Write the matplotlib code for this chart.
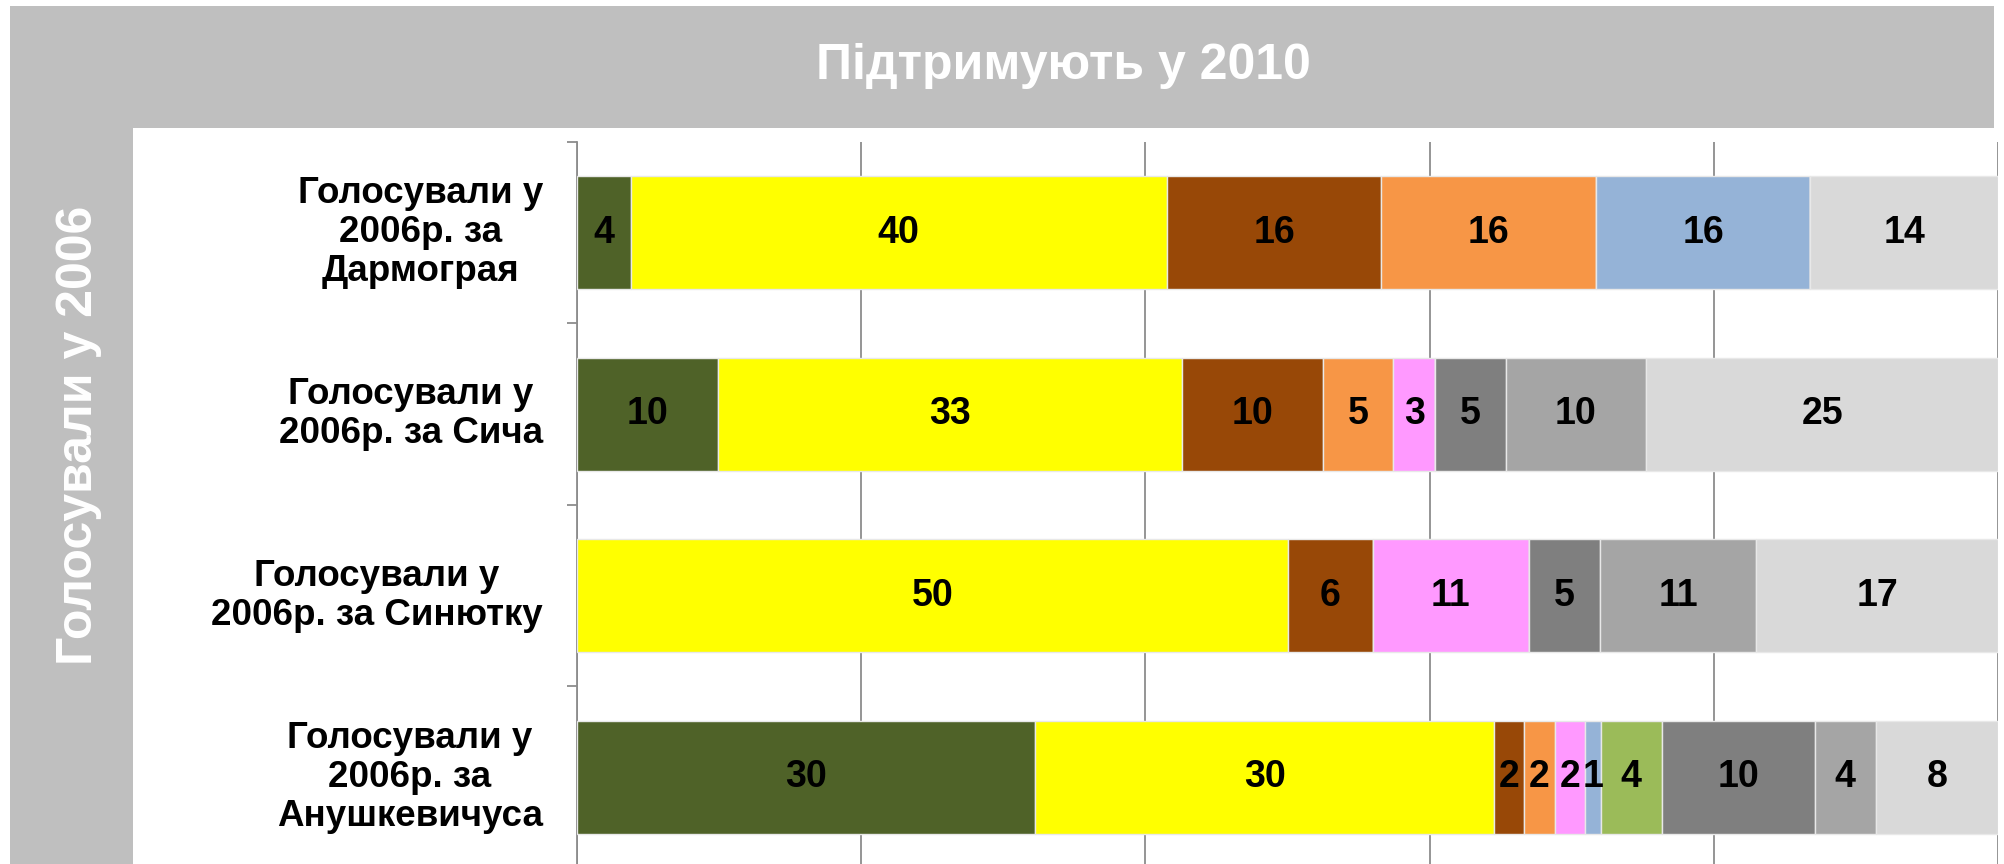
import matplotlib
matplotlib.use("Agg")
import matplotlib.pyplot as plt
import matplotlib.transforms as mtransforms
from matplotlib.patches import Rectangle
import numpy as np

plt.rcParams['font.family'] = ['Liberation Sans', 'DejaVu Sans']

title = "Підтримують у 2010"
side_title = "Голосували у 2006"
categories = [
    "Голосували у\n2006р. за\nДармограя",
    "Голосували у\n2006р. за Сича",
    "Голосували у\n2006р. за Синютку",
    "Голосували у\n2006р. за\nАнушкевичуса",
]

# one list per 2010 option, values per 2006 group (0 = absent)
dark_green = [4, 10, 0, 30]
yellow = [40, 33, 50, 30]
brown = [16, 10, 6, 2]
orange = [16, 5, 0, 2]
pink = [0, 3, 11, 2]
blue = [16, 0, 0, 1]
light_green = [0, 0, 0, 4]
dark_gray = [0, 5, 5, 10]
mid_gray = [0, 10, 11, 4]
light_gray = [14, 25, 17, 8]

series = [dark_green, yellow, brown, orange, pink, blue,
          light_green, dark_gray, mid_gray, light_gray]
colors = ['#4F6228', '#FFFF00', '#984807', '#F79646', '#FF99FF',
          '#95B3D7', '#9BBB59', '#7F7F7F', '#A5A5A5', '#D9D9D9']

W, H = 2004, 864
fig = plt.figure(figsize=(W / 100, H / 100), dpi=100, facecolor='white')

# background bands (pixel coords -> figure fractions)
def px_rect(x0, y0, x1, y1, color, z):
    fig.patches.append(Rectangle((x0 / W, 1 - y1 / H), (x1 - x0) / W, (y1 - y0) / H,
                                 transform=fig.transFigure, facecolor=color,
                                 edgecolor='none', zorder=z))

px_rect(10, 6, 1994, 864, '#BFBFBF', -3)
px_rect(133, 128, 2004, 864, 'white', -2)

fig.text(1063 / W, 1 - 66 / H, title, color='white', fontsize=36,
         fontweight='bold', ha='center', va='center')
fig.text(79 / W, 1 - 435 / H, side_title, color='white', fontsize=36,
         fontweight='bold', ha='center', va='center', rotation=90)

ax_left, ax_right, ax_top, ax_bottom = 577, 1998, 142, 868
ax = fig.add_axes([ax_left / W, 1 - ax_bottom / H,
                   (ax_right - ax_left) / W, (ax_bottom - ax_top) / H])
ax.set_facecolor('none')

data = np.array(series, dtype=float)
totals = data.sum(axis=0)
pct = data / totals * 100
y = np.arange(len(categories))
left = np.zeros(len(categories))
for vals, p, c in zip(data, pct, colors):
    bars = ax.barh(y, p, left=left, height=0.62, color=c,
                   edgecolor='#E8E8E8', linewidth=1, zorder=3)
    for b, v in zip(bars, vals):
        if v > 0:
            ax.text(b.get_x() + b.get_width() / 2, b.get_y() + b.get_height() / 2,
                    f"{int(v)}", ha='center', va='center', fontsize=27,
                    fontweight='bold', color='black', zorder=4)
    left += p

ax.set_xlim(0, 100)
ax.set_ylim(3.5, -0.5)
ax.set_xticks([0, 20, 40, 60, 80, 100])
ax.set_axisbelow(True)
ax.xaxis.grid(True, color='#8C8C8C', linewidth=1.3)
ax.tick_params(axis='x', length=0, labelbottom=False)
ax.set_yticks([-0.5, 0.5, 1.5, 2.5, 3.5])
ax.set_yticklabels([])
ax.tick_params(axis='y', length=7, width=1.3, color='#8C8C8C')
for s in ['top', 'right', 'bottom']:
    ax.spines[s].set_visible(False)
ax.spines['left'].set_color('#8C8C8C')
ax.spines['left'].set_linewidth(1.3)

trans = mtransforms.blended_transform_factory(ax.transAxes, ax.transData)
for i, lab in enumerate(categories):
    ax.text(-34 / (ax_right - ax_left), i, lab, transform=trans, ha='right',
            va='center', multialignment='center', fontsize=26.5,
            fontweight='bold', color='black', linespacing=1.15)

fig.savefig('out.png', dpi=100, facecolor=fig.get_facecolor())
